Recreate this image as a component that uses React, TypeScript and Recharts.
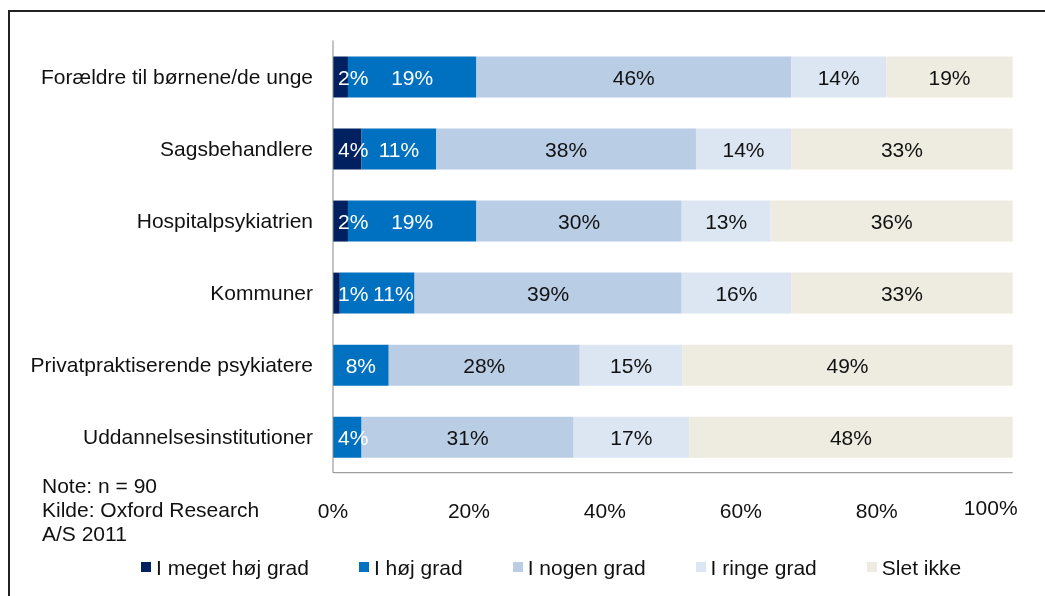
import React from "react";
import { BarChart, Bar, XAxis, YAxis, LabelList } from "recharts";

const categories = [
  "Forældre til børnene/de unge",
  "Sagsbehandlere",
  "Hospitalpsykiatrien",
  "Kommuner",
  "Privatpraktiserende psykiatere",
  "Uddannelsesinstitutioner",
];

const seriesNames = ["I meget høj grad", "I høj grad", "I nogen grad", "I ringe grad", "Slet ikke"];
const seriesKeys = ["megetHoej", "hoej", "nogen", "ringe", "sletIkke"];
const seriesColors = ["#002060", "#0070C0", "#B9CDE5", "#DCE6F2", "#EEECE1"];
const labelColors = ["#fff", "#fff", "#111", "#111", "#111"];

// shares in percent, one entry per category
const megetHoej = [2.2, 4.2, 2.2, 1.0, 0, 0];
const hoej = [18.9, 11.0, 18.9, 11.0, 8.2, 4.2];
const nogen = [46.3, 38.2, 30.2, 39.3, 28.1, 31.2];
const ringe = [14.0, 14.0, 13.1, 16.1, 15.1, 17.0];
const sletIkke = [18.6, 32.6, 35.6, 32.6, 48.6, 47.6];

const xTicks = [0, 20, 40, 60, 80, 100];
const notes = ["Note: n = 90", "Kilde: Oxford Research", "A/S 2011"];

const seriesValues = [megetHoej, hoej, nogen, ringe, sletIkke];

const data = categories.map((name, i) => {
  const row: Record<string, any> = { name };
  seriesKeys.forEach((k, s) => (row[k] = seriesValues[s][i]));
  return row;
});

const FONT = "'Liberation Sans', Arial, sans-serif";
const FS = 21;
const TEXT = "#111";

const textW = (s: string) => {
  let w = 0;
  for (const ch of s) w += ch === "%" ? 0.889 : 0.556;
  return w * FS;
};

// centred labels, pushed right so small segments don't clip or overlap
const makeLabel = (si: number) => (props: any) => {
  const vb = props.viewBox || props;
  const x = Number(vb.x ?? props.x);
  const y = Number(vb.y ?? props.y);
  const width = Number(vb.width ?? props.width);
  const height = Number(vb.height ?? props.height);
  let index = props.index;
  if (index == null && props.payload) index = categories.indexOf(props.payload.name);
  const row = seriesValues.map((s) => s[index]);
  const v = row[si];
  if (!v) return null;
  const k = width / v;
  const before = row.slice(0, si).reduce((a, b) => a + b, 0);
  const left = x - before * k;
  let prevRight = -Infinity;
  let cx = 0;
  let cum = 0;
  for (let j = 0; j <= si; j++) {
    const vj = row[j];
    if (vj > 0) {
      const tw = textW(`${Math.round(vj)}%`);
      const segC = left + (cum + vj / 2) * k;
      cx = Math.max(segC, left + tw / 2 + 5, prevRight + 4 + tw / 2);
      prevRight = cx + tw / 2;
    }
    cum += vj;
  }
  return (
    <text
      x={cx}
      y={y + height / 2}
      dy="0.36em"
      textAnchor="middle"
      fill={labelColors[si]}
      fontSize={FS}
      fontFamily={FONT}
    >
      {Math.round(v)}%
    </text>
  );
};

const XTick = (props: any) => {
  const { x, y, payload } = props;
  const last = payload.value === 100;
  return (
    <text
      x={x + (last ? -22 : 0)}
      y={y + (last ? 42 : 45)}
      textAnchor="middle"
      fontSize={FS}
      fontFamily={FONT}
      fill={TEXT}
    >
      {payload.value}%
    </text>
  );
};

const YTick = (props: any) => (
  <text
    x={props.x}
    y={props.y}
    dy="0.36em"
    textAnchor="end"
    fontSize={FS}
    fontFamily={FONT}
    fill={TEXT}
  >
    {props.payload.value}
  </text>
);

export default function App() {
  return (
    <div
      style={{
        position: "relative",
        width: 1045,
        height: 596,
        margin: -8,
        overflow: "hidden",
        background: "#fff",
        fontFamily: FONT,
      }}
    >
      <div style={{ position: "fixed", left: 7.5, top: 9.5, bottom: 0, width: 2, background: "#222" }} />
      <div style={{ position: "fixed", left: 7.5, top: 9.5, right: 0, height: 2, background: "#222" }} />

      <BarChart
        width={1045}
        height={596}
        data={data}
        layout="vertical"
        margin={{ top: 40.5, right: 32.3, bottom: 83.3, left: 0 }}
      >
        <XAxis
          type="number"
          domain={[0, 100]}
          ticks={xTicks}
          height={40}
          axisLine={{ stroke: "#888" }}
          tickLine={false}
          tickSize={0}
          tickMargin={0}
          tick={<XTick />}
          interval={0}
        />
        <YAxis
          type="category"
          dataKey="name"
          width={333}
          axisLine={{ stroke: "#888" }}
          tickLine={false}
          tickSize={0}
          tickMargin={20}
          tick={<YTick />}
          interval={0}
        />
        {seriesKeys.map((key, i) => (
          <Bar
            key={key}
            dataKey={key}
            name={seriesNames[i]}
            stackId="a"
            fill={seriesColors[i]}
            barSize={41}
            isAnimationActive={false}
          >
            <LabelList dataKey={key} content={makeLabel(i)} />
          </Bar>
        ))}
      </BarChart>

      <div
        style={{
          position: "absolute",
          left: 42,
          top: 474.2,
          fontSize: FS,
          lineHeight: "24px",
          color: TEXT,
          whiteSpace: "nowrap",
        }}
      >
        {notes.map((n) => (
          <div key={n}>{n}</div>
        ))}
      </div>

      <div
        style={{
          position: "absolute",
          left: 141,
          top: 556.5,
          display: "flex",
          gap: 50,
          fontSize: FS,
          lineHeight: "21px",
          color: TEXT,
          whiteSpace: "nowrap",
        }}
      >
        {seriesNames.map((n, i) => (
          <div key={n} style={{ display: "flex", alignItems: "center" }}>
            <span style={{ display: "inline-block", width: 10, height: 10, background: seriesColors[i], marginRight: 5 }} />
            <span>{n}</span>
          </div>
        ))}
      </div>
    </div>
  );
}
